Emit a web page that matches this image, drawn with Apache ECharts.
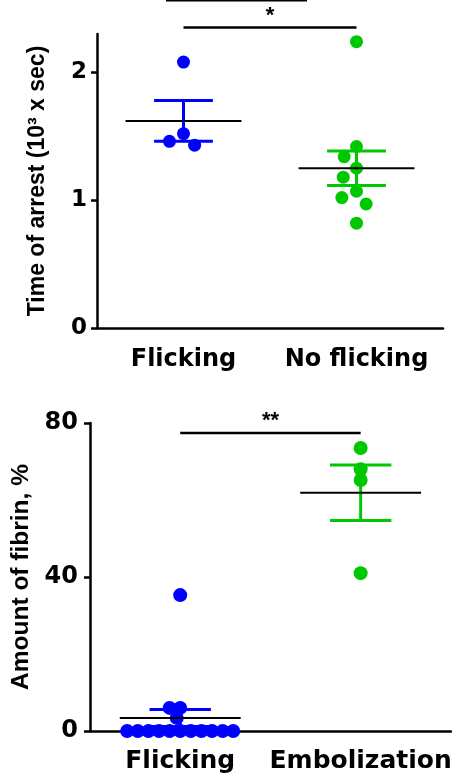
<!DOCTYPE html>
<html>
<head>
<meta charset="utf-8">
<script src="https://cdn.jsdelivr.net/npm/echarts@6/dist/echarts.min.js"></script>
<style>
html,body{margin:0;padding:0;background:#fff;}
#chart{width:454px;height:779px;}
</style>
</head>
<body>
<div id="chart"></div>
<script>
// ---------- data ----------
const categoriesTop = ['Flicking', 'No flicking'];
const flickingTop = [2.08, 1.52, 1.46, 1.43];
const noFlickingTop = [2.24, 1.42, 1.34, 1.25, 1.18, 1.07, 1.02, 0.97, 0.82];
const meanTop = [1.62, 1.25];
const semTop = [0.16, 0.135];
const yTicksTop = [0, 1, 2];
const yMaxTop = 2.3;
const sigTopLabel = '*';
const sigTopLevel = 2.35;

const categoriesBottom = ['Flicking', 'Embolization'];
const flickingBottom = [35.3, 6.0, 6.0, 3.4, 0, 0, 0, 0, 0, 0, 0, 0, 0, 0, 0];
const embolizationBottom = [73.5, 68.0, 65.2, 41.0];
const meanBottom = [3.4, 61.9];
const semBottom = [2.2, 7.2];
const yTicksBottom = [0, 40, 80];
const sigBottomLabel = '**';
const sigBottomLevel = 77.4;

// ---------- styles ----------
const BLUE = '#0000ff';
const GREEN = '#00c800';
const groupColors = [BLUE, GREEN];
const LABEL_FONT = 'DejaVu Sans';
const TITLE_FONT = 'Liberation Sans';

function statsRenderer(params, api) {
  const cat = api.value(0), mean = api.value(1), sem = api.value(2);
  const c = api.coord([cat, mean]);
  const hi = api.coord([cat, mean + sem]);
  const lo = api.coord([cat, mean - sem]);
  const band = api.size([1, 0])[0];
  const meanHalf = band * 0.335, capHalf = band * 0.17;
  const color = groupColors[params.dataIndex];
  const es = {stroke: color, lineWidth: 3};
  return {
    type: 'group',
    children: [
      {type: 'line', shape: {x1: c[0], y1: hi[1], x2: c[0], y2: lo[1]}, style: es},
      {type: 'line', shape: {x1: c[0] - capHalf, y1: hi[1], x2: c[0] + capHalf, y2: hi[1]}, style: es},
      {type: 'line', shape: {x1: c[0] - capHalf, y1: lo[1], x2: c[0] + capHalf, y2: lo[1]}, style: es},
      {type: 'line', shape: {x1: c[0] - meanHalf, y1: c[1], x2: c[0] + meanHalf, y2: c[1]}, style: {stroke: '#000', lineWidth: 2}}
    ]
  };
}

function sigRenderer(params, api) {
  const a = api.coord([api.value(0), api.value(2)]);
  const b = api.coord([api.value(1), api.value(2)]);
  return {
    type: 'group',
    children: [
      {type: 'line', shape: {x1: a[0], y1: a[1], x2: b[0], y2: b[1]}, style: {stroke: '#000', lineWidth: 2.5}},
      {type: 'text', style: {text: api.value(3), x: (a[0] + b[0]) / 2, y: a[1] - 1,
        align: 'center', verticalAlign: 'bottom', fill: '#000', fontSize: 22, fontWeight: 'bold', fontFamily: TITLE_FONT}}
    ]
  };
}

function xAxisCfg(gridIndex, cats, fontSize, margin, jitter, jitterMargin) {
  return {
    type: 'category', gridIndex, data: cats,
    jitter, jitterOverlap: false, jitterMargin,
    axisLine: {lineStyle: {color: '#000', width: 2.5}},
    axisTick: {alignWithLabel: true, length: 7, lineStyle: {color: '#000', width: 2.5}},
    axisLabel: {color: '#000', fontSize, fontWeight: 'bold', fontFamily: LABEL_FONT, margin, interval: 0, hideOverlap: false},
    splitLine: {show: false}
  };
}
function yAxisCfg(gridIndex, name, min, max, ticks, fontSize, nameSize, nameGap, margin) {
  return {
    type: 'value', gridIndex, min, max, name, nameLocation: 'middle', nameGap,
    nameTextStyle: {color: '#000', fontSize: nameSize, fontWeight: 'bold', fontFamily: TITLE_FONT},
    axisLine: {show: true, lineStyle: {color: '#000', width: 2.5}},
    axisTick: {show: true, length: 6, customValues: ticks, lineStyle: {color: '#000', width: 2.5}},
    axisLabel: {color: '#000', fontSize, fontWeight: 'bold', fontFamily: LABEL_FONT, margin, customValues: ticks},
    splitLine: {show: false}
  };
}

const chart = echarts.init(document.getElementById('chart'), null, {renderer: 'canvas'});
chart.setOption({
  backgroundColor: '#fff',
  animation: false,
  grid: [
    {left: 97, right: 11, top: 34, height: 294},
    {left: 90, right: 0, top: 423, height: 308}
  ],
  xAxis: [
    xAxisCfg(0, categoriesTop, 24, 20, 60, 3),
    xAxisCfg(1, categoriesBottom, 25, 18, 130, -3.4)
  ],
  yAxis: [
    yAxisCfg(0, 'Time of arrest (10³ x sec)', 0, yMaxTop, yTicksTop, 23, 23, 48, 10),
    yAxisCfg(1, 'Amount of fibrin, %', 0, 80, yTicksBottom, 24, 24.5, 52, 12)
  ],
  graphic: [
    {type: 'line', shape: {x1: 166, y1: 0.5, x2: 307, y2: 0.5}, style: {stroke: '#000', lineWidth: 2}}
  ],
  series: [
    {type: 'scatter', xAxisIndex: 0, yAxisIndex: 0, symbolSize: 13, itemStyle: {color: BLUE, opacity: 1},
      data: flickingTop.map(v => [0, v]), z: 2},
    {type: 'scatter', xAxisIndex: 0, yAxisIndex: 0, symbolSize: 13, itemStyle: {color: GREEN, opacity: 1},
      data: noFlickingTop.map(v => [1, v]), z: 2},
    {type: 'custom', xAxisIndex: 0, yAxisIndex: 0, renderItem: statsRenderer, z: 5,
      data: meanTop.map((m, i) => [i, m, semTop[i]])},
    {type: 'custom', xAxisIndex: 0, yAxisIndex: 0, renderItem: sigRenderer, clip: false, z: 5,
      data: [[0, 1, sigTopLevel, sigTopLabel]]},

    {type: 'scatter', xAxisIndex: 1, yAxisIndex: 1, symbolSize: 14, itemStyle: {color: BLUE, opacity: 1},
      data: flickingBottom.map(v => [0, v]), z: 2},
    {type: 'scatter', xAxisIndex: 1, yAxisIndex: 1, symbolSize: 14, itemStyle: {color: GREEN, opacity: 1},
      data: embolizationBottom.map(v => [1, v]), z: 2},
    {type: 'custom', xAxisIndex: 1, yAxisIndex: 1, renderItem: statsRenderer, z: 5,
      data: meanBottom.map((m, i) => [i, m, semBottom[i]])},
    {type: 'custom', xAxisIndex: 1, yAxisIndex: 1, renderItem: sigRenderer, clip: false, z: 5,
      data: [[0, 1, sigBottomLevel, sigBottomLabel]]}
  ]
});
</script>
</body>
</html>
